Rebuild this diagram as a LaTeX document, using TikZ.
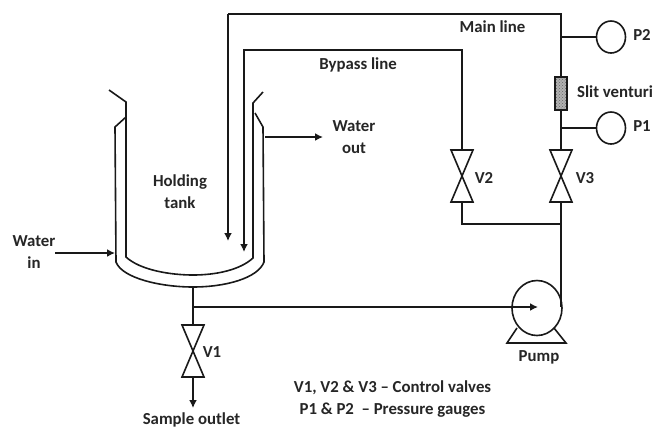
\documentclass[tikz,border=0pt]{standalone}
\usepackage{fontspec}
\setmainfont{Carlito}
\usetikzlibrary{arrows.meta,shapes.geometric,patterns}
\tikzset{
  pipe/.style={draw=black!90,line width=1.6pt,line join=miter},
  flow/.style={pipe,-{Latex[length=8pt,width=8pt]}},
  gauge/.style={ellipse,draw=black!90,line width=1.6pt,inner sep=0pt,minimum width=29pt,minimum height=32pt},
  pumpbody/.style={ellipse,draw=black!90,line width=1.6pt,inner sep=0pt,minimum width=50pt,minimum height=55pt},
  lbl/.style={font=\bfseries\fontsize{16.8}{22}\selectfont,text=black!85,inner sep=0pt,align=center},
  venturibox/.style={rectangle,draw=black!90,line width=1.6pt,inner sep=0pt,minimum width=12pt,minimum height=33pt,preaction={fill=black!30},pattern=crosshatch dots,pattern color=black!60},
  wall/.style={draw=black!90,line width=1.6pt}
}
\newcommand{\valvesym}[3]{% name, x, ytop
  \coordinate (#1t) at (#2,#3);
  \coordinate (#1b) at (#2,#3+52);
  \draw[wall,line join=miter] (#2-11,#3) -- (#2+11,#3) -- (#2-11,#3+52) -- (#2+11,#3+52) -- cycle;
}
\begin{document}
\begin{tikzpicture}[x=1pt,y=-1pt]
\useasboundingbox (0,0) rectangle (654,429);
\fill[white] (0,0) rectangle (654,429);

% tank
\draw[wall] (109,90) -- (126,102) -- (126,257) .. controls (140,270) and (170,275) .. (193,275) .. controls (216,275) and (240,270) .. (253,258) -- (253,103) -- (263,92);
\draw[wall] (126,117) -- (115,127) -- (116,262) .. controls (122,278) and (160,287) .. (193,287) .. controls (226,287) and (258,278) .. (264,262) -- (263,127) -- (255,113);

% named points
\coordinate (mainend) at (228,241);
\coordinate (maincorner) at (228,14);
\coordinate (mainright) at (561,14);
\coordinate (byend) at (244,252);
\coordinate (bycorner) at (244,50);
\coordinate (byright) at (462,50);
\coordinate (wiS) at (55,253);
\coordinate (wiE) at (115,253);
\coordinate (woS) at (265,137);
\coordinate (woE) at (323,137);
\coordinate (tankbot) at (193,287);
\coordinate (junc) at (193,307);
\coordinate (pumpin) at (538,307);
\coordinate (sampleend) at (193,408);
\coordinate (tee) at (561,224);
\coordinate (teeV2) at (462,224);
\coordinate (pumpout) at (561,307);

% valves
\valvesym{vb}{462}{150}
\valvesym{vc}{561}{150}
\valvesym{va}{193}{325}

% venturi and gauges
\node[venturibox] (venturi) at (561,93.5) {};
\node[gauge] (P2) at (611,37) {};
\node[gauge] (P1) at (611,128) {};
\coordinate (P2t) at (561,37);
\coordinate (P1t) at (561,128);

% pump
\node[pumpbody] (pump) at (537,308) {};
\draw[wall,line join=miter] (517,328) -- (507,343) -- (566,343) -- (554,328);

% pipes
\draw[pipe] (vct) -- (venturi.south) (venturi.north) -- (mainright) -- (maincorner);
\draw[flow] (maincorner) -- (mainend);
\draw[flow] (vbt) -- (byright) -- (bycorner) -- (byend);
\draw[pipe] (vbb) -- (teeV2) -- (tee);
\draw[pipe] (vcb) -- (pumpout);
\draw[pipe] (P2t) -- (P2.west);
\draw[pipe] (P1t) -- (P1.west);
\draw[pipe] (tankbot) -- (vat);
\draw[flow] (vab) -- (sampleend);
\draw[flow] (junc) -- (pumpin);
\draw[flow] (wiS) -- (wiE);
\draw[flow] (woS) -- (woE);

% labels
\node[lbl] (tMain) at (492.5,27) {Main line};
\node[lbl] (tBy) at (358,65) {Bypass line};
\node[lbl] (tP2) at (642,35) {P2};
\node[lbl] (tP1) at (642,126) {P1};
\node[lbl] (tSlit) at (615,92) {Slit venturi};
\node[lbl] (tWout) at (354,137) {Water\\out};
\node[lbl] (tHold) at (180,192) {Holding\\tank};
\node[lbl] (tWin) at (34,252) {Water\\in};
\node[lbl] (tV2) at (484,178) {V2};
\node[lbl] (tV3) at (585,178) {V3};
\node[lbl] (tV1) at (212,352) {V1};
\node[lbl] (tPump) at (539,357) {Pump};
\node[lbl] (tSample) at (191.5,419.5) {Sample outlet};
\node[lbl] (tNote) at (392.5,399) {V1, V2 \& V3 – Control valves\\P1 \& P2 \ – Pressure gauges};
\end{tikzpicture}
\end{document}
